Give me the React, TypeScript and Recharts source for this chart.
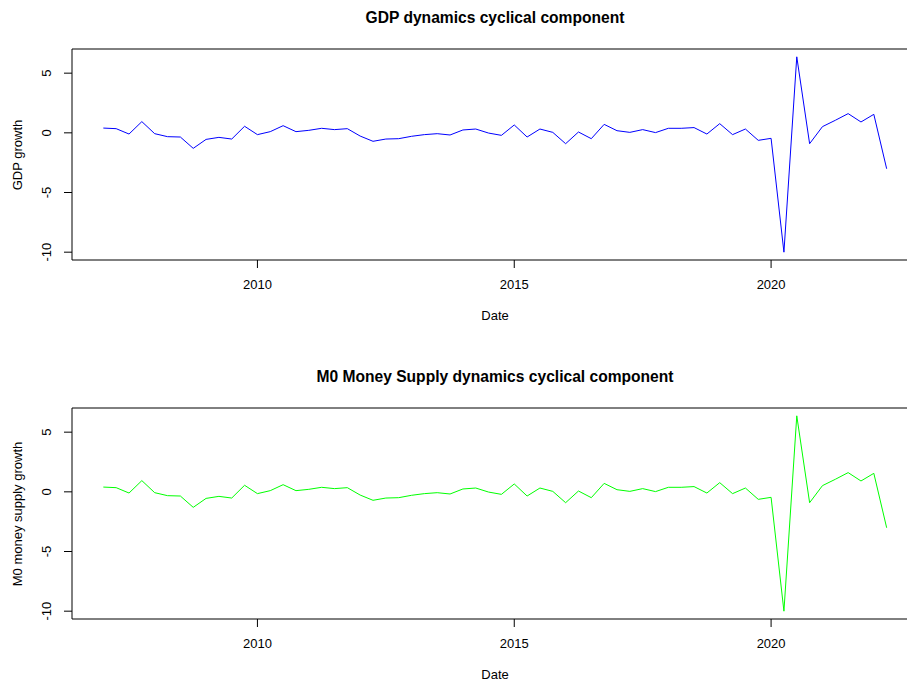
import React from "react";
import { LineChart, Line, XAxis, YAxis, ReferenceLine } from "recharts";

// quarterly observations, 2007 Q1 .. 2022 Q2
const startYear = 2007;

const gdpGrowth = [
  0.4, 0.35, -0.1, 0.94, -0.07, -0.32, -0.35, -1.3, -0.55, -0.38,
  -0.52, 0.55, -0.15, 0.1, 0.6, 0.1, 0.21, 0.38, 0.27, 0.35,
  -0.27, -0.71, -0.52, -0.49, -0.29, -0.15, -0.07, -0.18, 0.24, 0.32,
  -0.02, -0.21, 0.66, -0.35, 0.32, 0.04, -0.91, 0.07, -0.49, 0.71,
  0.18, 0.04, 0.27, 0.02, 0.38, 0.38, 0.44, -0.1, 0.77, -0.15,
  0.32, -0.63, -0.46, -10.0, 6.37, -0.91, 0.52, 1.05, 1.61, 0.91,
  1.55, -3.01,
];

const m0Growth = [
  0.4, 0.35, -0.1, 0.94, -0.07, -0.32, -0.35, -1.3, -0.55, -0.38,
  -0.52, 0.55, -0.15, 0.1, 0.6, 0.1, 0.21, 0.38, 0.27, 0.35,
  -0.27, -0.71, -0.52, -0.49, -0.29, -0.15, -0.07, -0.18, 0.24, 0.32,
  -0.02, -0.21, 0.66, -0.35, 0.32, 0.04, -0.91, 0.07, -0.49, 0.71,
  0.18, 0.04, 0.27, 0.02, 0.38, 0.38, 0.44, -0.1, 0.77, -0.15,
  0.32, -0.63, -0.46, -10.0, 6.37, -0.91, 0.52, 1.05, 1.61, 0.91,
  1.55, -3.01,
];

const xTicks = [2010, 2015, 2020];
const yTicks = [-10, -5, 0, 5];

const FONT = '"Liberation Sans", Arial, sans-serif';

// R pads the axis range by 4% on each side
const padRange = (lo: number, hi: number): [number, number] => {
  const p = (hi - lo) * 0.04;
  return [lo - p, hi + p];
};

const toRows = (values: number[]) =>
  values.map((v, i) => ({ date: startYear + i / 4, value: v }));

const RotatedTick = (props: any) => {
  const { x, y, payload } = props;
  return (
    <text
      x={x}
      y={y}
      transform={`rotate(-90 ${x} ${y})`}
      textAnchor="middle"
      fontSize={13}
      fontFamily={FONT}
      fill="#000"
    >
      {payload.value}
    </text>
  );
};

interface PanelProps {
  title: string;
  yLabel: string;
  values: number[];
  color: string;
  top: number;
}

const Panel: React.FC<PanelProps> = ({ title, yLabel, values, color, top }) => {
  const rows = toRows(values);
  const xDomain = padRange(rows[0].date, rows[rows.length - 1].date);
  const yDomain = padRange(Math.min(...values), Math.max(...values));

  return (
    <div style={{ position: "absolute", top, left: 0, width: 907, height: 330, overflow: "hidden" }}>
      <div
        style={{
          position: "absolute",
          top: 8,
          left: 95,
          width: 800,
          textAlign: "center",
          fontWeight: "bold",
          fontSize: 15.6,
          lineHeight: "20px",
          fontFamily: FONT,
        }}
      >
        {title}
      </div>
      <div
        style={{
          position: "absolute",
          left: 17,
          top: 154.5,
          transform: "translate(-50%, -50%) rotate(-90deg)",
          whiteSpace: "nowrap",
          fontSize: 13,
          fontFamily: FONT,
        }}
      >
        {yLabel}
      </div>
      <div style={{ position: "absolute", top: 0, left: 0 }}>
        <LineChart
          width={925}
          height={330}
          data={rows}
          margin={{ top: 49, right: 7, bottom: 0, left: 12 }}
        >
          <XAxis
            dataKey="date"
            type="number"
            domain={xDomain}
            ticks={xTicks}
            allowDataOverflow
            axisLine={{ stroke: "#000" }}
            tickLine={{ stroke: "#000" }}
            tickSize={8}
            tickMargin={12}
            height={70}
            tick={{ fill: "#000", fontSize: 13, fontFamily: FONT }}
            label={{
              value: "Date",
              position: "insideBottom",
              offset: 10,
              fill: "#000",
              fontSize: 13,
              fontFamily: FONT,
            }}
          />
          <YAxis
            type="number"
            domain={yDomain}
            ticks={yTicks}
            allowDataOverflow
            axisLine={{ stroke: "#000" }}
            tickLine={{ stroke: "#000" }}
            tickSize={8}
            tickMargin={13}
            width={60}
            tick={<RotatedTick />}
          />
          {/* top edge of the plot box; the right edge falls outside the picture */}
          <ReferenceLine y={yDomain[1]} stroke="#000" strokeOpacity={1} />
          <Line
            type="linear"
            dataKey="value"
            stroke={color}
            strokeWidth={1}
            dot={false}
            isAnimationActive={false}
          />
        </LineChart>
      </div>
    </div>
  );
};

export default function App() {
  return (
    <div
      style={{
        position: "fixed",
        top: 0,
        left: 0,
        width: 907,
        height: 681,
        overflow: "hidden",
        background: "#fff",
      }}
    >
      <Panel
        title="GDP dynamics cyclical component"
        yLabel="GDP growth"
        values={gdpGrowth}
        color="#0000ff"
        top={0}
      />
      <Panel
        title="M0 Money Supply dynamics cyclical component"
        yLabel="M0 money supply growth"
        values={m0Growth}
        color="#00ff00"
        top={359}
      />
    </div>
  );
}
